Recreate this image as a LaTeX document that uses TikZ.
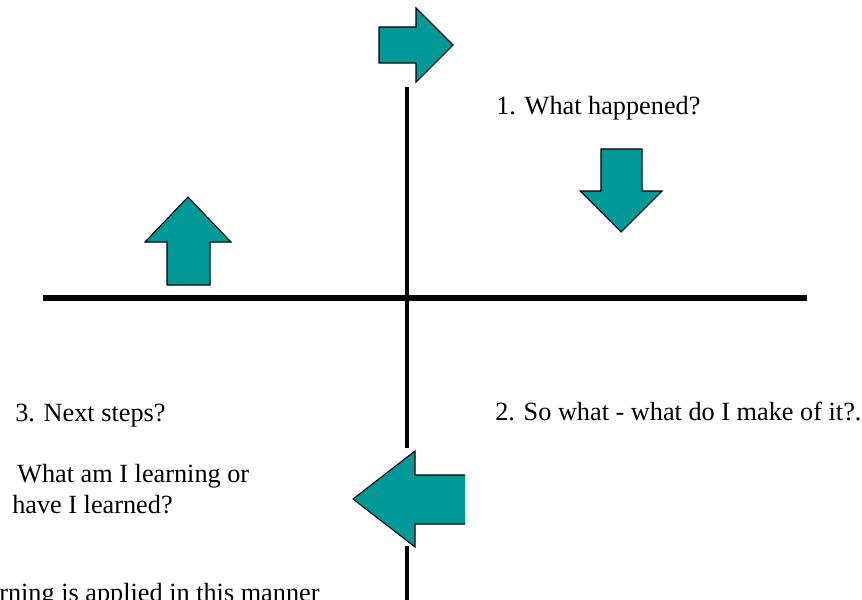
\documentclass[tikz,border=0pt]{standalone}
\usepackage{fontspec}
\setmainfont{Liberation Serif}
\definecolor{teal}{RGB}{0,153,153}
\begin{document}
\begin{tikzpicture}[x=0.75pt,y=-0.75pt,
  arrowshape/.style={fill=teal,draw=black,line width=0.8pt,line join=miter},
  axis/.style={line width=3.6pt,black},
  label/.style={anchor=base west,inner sep=0pt,font=\fontsize{19.7}{23}\selectfont}]
\useasboundingbox (0,0) rectangle (862,599);
\clip (0,0) rectangle (862,599);
% axes
\draw[axis,line width=3.8pt] (43,298) -- (807,298);
\draw[axis,line width=3.3pt] (407,87) -- (407,448);
\draw[axis,line width=3.3pt] (407,546) -- (407,605);
% right arrow (top)
\draw[arrowshape] (379,27) -- (416,27) -- (416,8) -- (453,45) -- (416,82) -- (416,63) -- (379,63) -- cycle;
% down arrow
\draw[arrowshape] (601,149) -- (642,149) -- (642,191) -- (662,191) -- (621,232) -- (580,191) -- (601,191) -- cycle;
% up arrow
\draw[arrowshape] (188,197) -- (231,242) -- (210,242) -- (210,285) -- (167,285) -- (167,242) -- (145,242) -- cycle;
% left arrow (tail cut off)
\fill[teal] (465,475) -- (415,475) -- (415,451) -- (353,499) -- (415,547) -- (415,524) -- (465,524) -- cycle;
\draw[black,line width=0.8pt,line join=miter] (465,475) -- (415,475) -- (415,451) -- (353,499) -- (415,547) -- (415,524) -- (465,524);
% texts
\node[label] (t1) at (496,115) {1. What happened?};
\node[label] (t2) at (495,420) {2. So what - what do I make of it?.};
\node[label] (t3) at (15,421) {3. Next steps?};
\node[label] (t4) at (17,482) {What am I learning or};
\node[label] (t5) at (12,513) {have I learned?};
\node[label] (t6) at (-1,601) {rning is applied in this manner};
\end{tikzpicture}
\end{document}
